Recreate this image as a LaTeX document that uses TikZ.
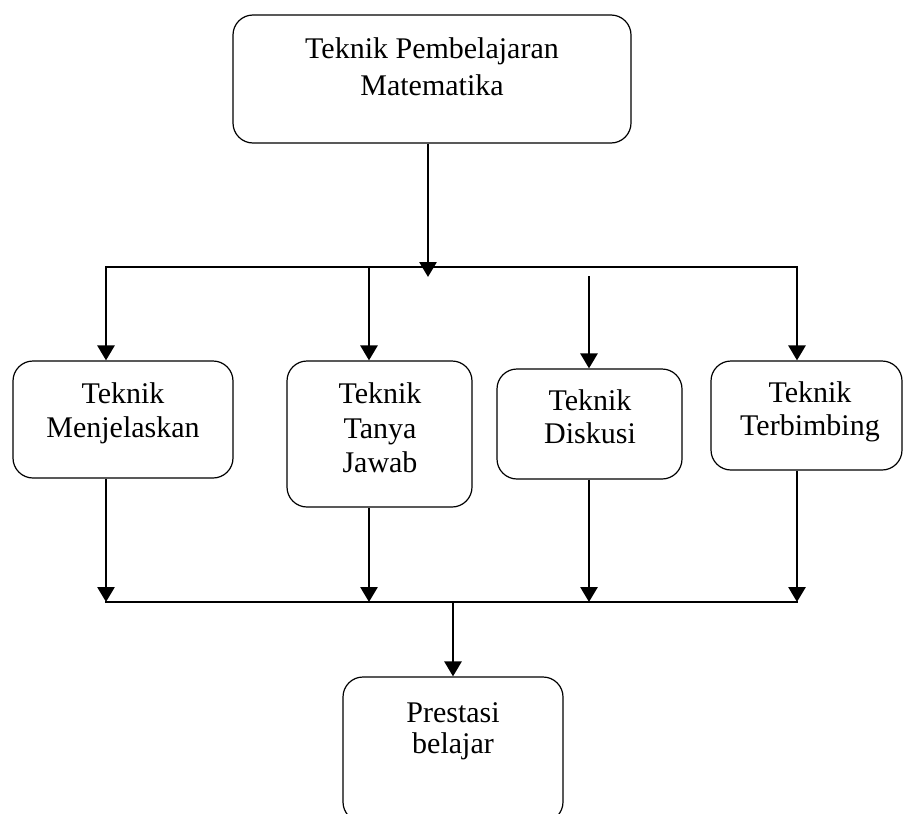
\documentclass[tikz,border=0pt]{standalone}
\usepackage{fontspec}
\setmainfont{Liberation Serif}
\usetikzlibrary{arrows.meta}
\begin{document}
\begin{tikzpicture}[x=1pt,y=-1pt,
  box/.style={draw, line width=1.2pt, rounded corners=20pt, inner sep=0pt},
  txt/.style={font=\fontsize{30}{34}\selectfont, inner sep=0pt, anchor=base},
  link/.style={line width=2.8pt, line cap=rect},
  arr/.style={line width=2.8pt, -{Triangle[length=15pt,width=17pt]}}]
\useasboundingbox (0,0) rectangle (903,814);

% boxes
\node[box, minimum width=398pt, minimum height=128pt] (top) at (432,79) {};
\node[box, minimum width=220pt, minimum height=117pt] (b1) at (123,419.5) {};
\node[box, minimum width=185pt, minimum height=146pt] (b2) at (379.5,434) {};
\node[box, minimum width=185pt, minimum height=110pt] (b3) at (589.5,424) {};
\node[box, minimum width=191pt, minimum height=109pt] (b4) at (806.5,415.5) {};
\node[box, minimum width=220pt, minimum height=145pt] (b5) at (453,749.5) {};

% labels
\node[txt] (t0a) at (432,58) {Teknik Pembelajaran};
\node[txt] (t0b) at (432,95) {Matematika};
\node[txt] (t1a) at (123,403) {Teknik};
\node[txt] (t1b) at (123,437) {Menjelaskan};
\node[txt] (t2a) at (380,403) {Teknik};
\node[txt] (t2b) at (380,438) {Tanya};
\node[txt] (t2c) at (380,472) {Jawab};
\node[txt] (t3a) at (590,410) {Teknik};
\node[txt] (t3b) at (590,443) {Diskusi};
\node[txt] (t4a) at (810,402) {Teknik};
\node[txt] (t4b) at (810,435) {Terbimbing};
\node[txt] (t5a) at (453,722) {Prestasi};
\node[txt] (t5b) at (453,753) {belajar};

% upper distribution line
\coordinate (s0) at (428,277);
\coordinate (jL) at (106,267);
\coordinate (j2) at (369,267);
\coordinate (j3) at (589,276);
\coordinate (jR) at (797,267);
\draw[link] (jL) -- (jR);
\draw[arr] (top.south -| s0) -- (s0);
\draw[arr] (jL) -- (b1.north -| jL);
\draw[arr] (j2) -- (b2.north -| j2);
\draw[arr] (j3) -- (b3.north -| j3);
\draw[arr] (jR) -- (b4.north -| jR);

% lower collecting line
\coordinate (kL) at (106,602);
\coordinate (k2) at (369,602);
\coordinate (k3) at (589,602);
\coordinate (kR) at (797,602);
\coordinate (k0) at (453,602);
\draw[link] (kL) -- (kR);
\draw[arr] (b1.south -| kL) -- (kL);
\draw[arr] (b2.south -| k2) -- (k2);
\draw[arr] (b3.south -| k3) -- (k3);
\draw[arr] (b4.south -| kR) -- (kR);
\draw[arr] (k0) -- (b5.north);
\end{tikzpicture}
\end{document}
